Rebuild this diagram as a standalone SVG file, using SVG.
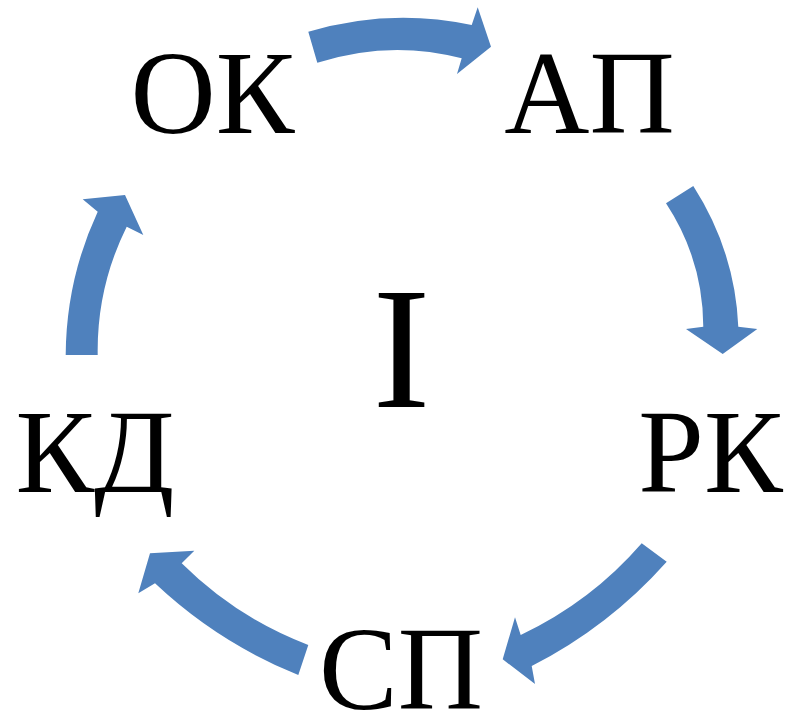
<svg xmlns="http://www.w3.org/2000/svg" width="790" height="721" viewBox="0 0 790 721">
<style>
.arrow{fill:#4F81BD;stroke:none}
.lbl{font-family:"Liberation Serif","DejaVu Serif",serif;font-size:118px;fill:#000;text-anchor:middle}
.big{font-size:174px}
</style>
<rect width="790" height="721" fill="#fff"/>
<g id="connectors">
<path class="arrow" d="M308.3,31.7 Q390,7.6 471.7,25 L477.7,7.3 L491,46.7 L457,74 L461.7,58.3 Q390,39.5 317.3,62.7 Z"/>
<path class="arrow" d="M693.3,186 Q735,251 738.3,326.7 L757.3,329 L722.7,354 L686,329 L703.3,326.7 Q703,259.5 666,203.3 Z"/>
<path class="arrow" d="M666.7,561.7 Q609,626.6 531.7,666 L535,684 L502.7,659.3 L515,617.3 L520.7,635 Q591,601.8 641.7,543.3 Z"/>
<path class="arrow" d="M298.3,675 Q218.1,642.7 155,583.3 L138.3,593.3 L150,553.3 L194.3,550.7 L181.7,563.3 Q236.4,617.7 308.3,645 Z"/>
<path class="arrow" d="M65.7,355 Q66.1,279.9 97.7,211.7 L82.7,199.3 L125,195 L143.3,235 L126.7,226.7 Q96.6,287.4 97.7,355 Z"/>
</g>
<g id="node-ok"><text class="lbl" x="212.5" y="133">ОК</text></g>
<g id="node-ap"><text class="lbl" x="589.5" y="133">АП</text></g>
<g id="node-rk"><text class="lbl" x="710.5" y="492">РК</text></g>
<g id="node-sp"><text class="lbl" x="401" y="709">СП</text></g>
<g id="node-kd"><text class="lbl" x="95" y="492">КД</text></g>
<g id="node-center"><text class="lbl big" x="401.5" y="407">I</text></g>
</svg>
